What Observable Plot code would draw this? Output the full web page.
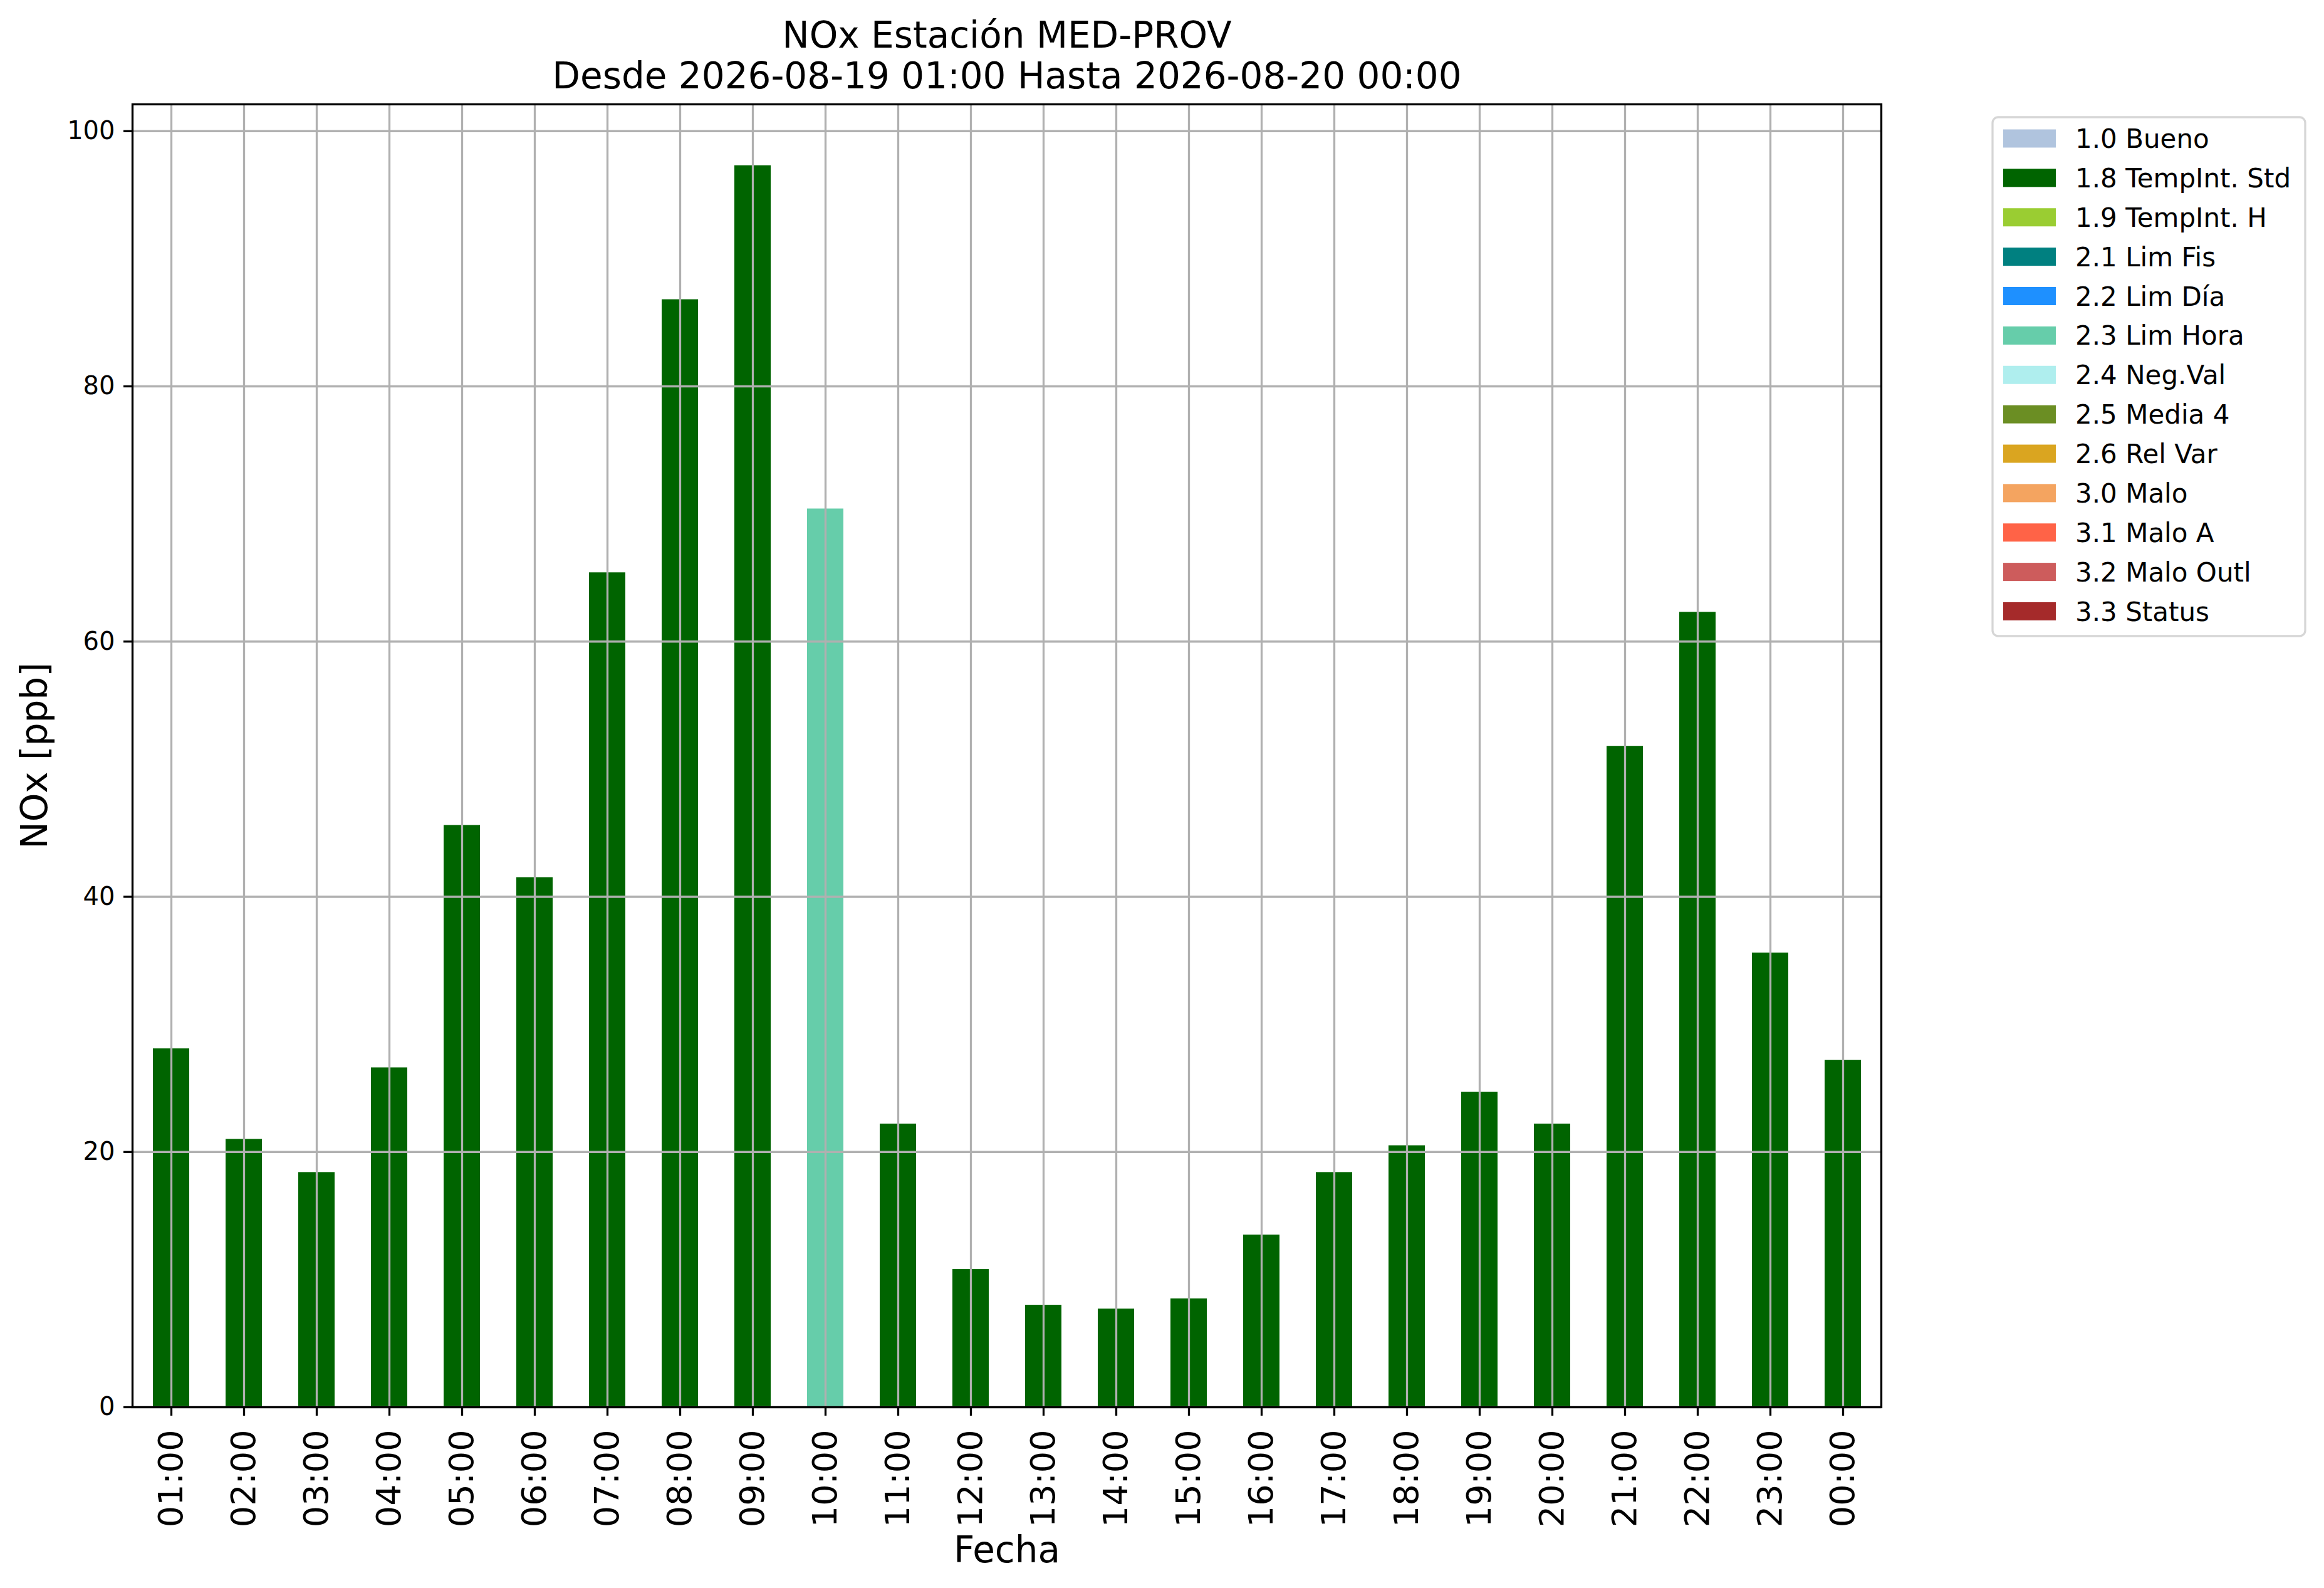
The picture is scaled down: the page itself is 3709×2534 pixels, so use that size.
<!DOCTYPE html>
<html>
<head>
<meta charset="utf-8">
<script src="https://cdn.jsdelivr.net/npm/d3@7"></script>
<script src="https://cdn.jsdelivr.net/npm/@observablehq/plot@0.6"></script>
<style>
  html, body { margin: 0; padding: 0; background: #fff; }
  #wrap { position: relative; width: 3709px; height: 2534px; background: #fff; font-family: "DejaVu Sans", sans-serif; }
  #wrap svg { display: block; }
  #legend { position: absolute; left: 0; top: 0; }
</style>
</head>
<body>
<div id="wrap"></div>
<script>
// ---- data ----
const hours = ["01:00","02:00","03:00","04:00","05:00","06:00","07:00","08:00","09:00","10:00","11:00","12:00",
               "13:00","14:00","15:00","16:00","17:00","18:00","19:00","20:00","21:00","22:00","23:00","00:00"];
const values = [28.1, 21.0, 18.4, 26.6, 45.6, 41.5, 65.4, 86.8, 97.3, 70.4, 22.2, 10.8,
                8.0, 7.7, 8.5, 13.5, 18.4, 20.5, 24.7, 22.2, 51.8, 62.3, 35.6, 27.2];
const flagOfHour = ["1.8 TempInt. Std","1.8 TempInt. Std","1.8 TempInt. Std","1.8 TempInt. Std","1.8 TempInt. Std","1.8 TempInt. Std",
                    "1.8 TempInt. Std","1.8 TempInt. Std","1.8 TempInt. Std","2.3 Lim Hora","1.8 TempInt. Std","1.8 TempInt. Std",
                    "1.8 TempInt. Std","1.8 TempInt. Std","1.8 TempInt. Std","1.8 TempInt. Std","1.8 TempInt. Std","1.8 TempInt. Std",
                    "1.8 TempInt. Std","1.8 TempInt. Std","1.8 TempInt. Std","1.8 TempInt. Std","1.8 TempInt. Std","1.8 TempInt. Std"];
const flagNames = ["1.0 Bueno","1.8 TempInt. Std","1.9 TempInt. H","2.1 Lim Fis","2.2 Lim Día","2.3 Lim Hora",
                   "2.4 Neg.Val","2.5 Media 4","2.6 Rel Var","3.0 Malo","3.1 Malo A","3.2 Malo Outl","3.3 Status"];
const flagColors = ["#b0c4de","#006400","#9acd32","#008080","#1e90ff","#66cdaa",
                    "#afeeee","#6b8e23","#daa520","#f4a460","#ff6347","#cd5c5c","#a52a2a"];
const yTicks = [0, 20, 40, 60, 80, 100];
const titleLine1 = "NOx Estación MED-PROV";
const titleLine2 = "Desde 2026-08-19 01:00 Hasta 2026-08-20 00:00";
const xLabel = "Fecha";
const yLabel = "NOx [ppb]";

const table = hours.map((h, i) => ({hour: h, value: values[i], flag: flagOfHour[i]}));

const W = 3709, H = 2534;
const mL = 211, mR = W - 3002, mT = 166, mB = H - 2245;
const lw = 3.3;
const gridColor = "#b0b0b0";

const chart = Plot.plot({
  width: W, height: H,
  marginLeft: mL, marginRight: mR, marginTop: mT, marginBottom: mB,
  style: {fontFamily: "DejaVu Sans", background: "#fff", color: "#000", overflow: "visible"},
  x: {domain: hours, paddingInner: 0.5, paddingOuter: 0.25, align: 0.5},
  y: {domain: [0, 102.1], nice: false},
  color: {domain: flagNames, range: flagColors},
  marks: [
    Plot.barY(table, {x: "hour", y: "value", fill: "flag"}),
    Plot.gridX({stroke: gridColor, strokeOpacity: 1, strokeWidth: lw}),
    Plot.gridY({ticks: yTicks, stroke: gridColor, strokeOpacity: 1, strokeWidth: lw}),
    Plot.axisY({ticks: yTicks, tickSize: 14, tickPadding: 14, fontSize: 40, strokeWidth: lw, label: null}),
    Plot.axisX({tickRotate: -90, tickSize: 14, tickPadding: 22, fontSize: 54, strokeWidth: lw, label: null}),
    Plot.frame({stroke: "#000", strokeWidth: lw}),
    Plot.text([titleLine1], {frameAnchor: "top", dy: 75 - mT, lineAnchor: "bottom", fontSize: 58}),
    Plot.text([titleLine2], {frameAnchor: "top", dy: 140 - mT, lineAnchor: "bottom", fontSize: 58}),
    Plot.text([xLabel], {frameAnchor: "bottom", dy: 2492 - 2245, lineAnchor: "bottom", fontSize: 58}),
    Plot.text([yLabel], {frameAnchor: "left", dx: 74 - mL, rotate: -90, textAnchor: "middle", lineAnchor: "bottom", fontSize: 58})
  ]
});
document.getElementById("wrap").appendChild(chart);

// ---- legend ----
const lg = d3.select("#wrap").append("svg")
  .attr("id", "legend")
  .attr("width", W).attr("height", H)
  .style("position", "absolute").style("left", "0px").style("top", "0px")
  .attr("font-family", "DejaVu Sans");
const boxX = 3180, boxY = 187, boxW = 499, boxH = 828;
lg.append("rect").attr("x", boxX).attr("y", boxY).attr("width", boxW).attr("height", boxH)
  .attr("rx", 9).attr("ry", 9)
  .attr("fill", "#fff").attr("fill-opacity", 0.8)
  .attr("stroke", "#d6d6d6").attr("stroke-width", lw);
const rowY = d3.scaleLinear().domain([0, flagNames.length - 1]).range([221, 975.5]);
const items = lg.selectAll("g.item").data(flagNames).join("g").attr("class", "item")
  .attr("transform", (d, i) => `translate(0,${rowY(i)})`);
items.append("rect").attr("x", 3197).attr("y", -14.5).attr("width", 84).attr("height", 29)
  .attr("fill", (d, i) => flagColors[i]);
items.append("text").attr("x", 3312).attr("y", 15).attr("font-size", 42).attr("fill", "#000")
  .text(d => d);
</script>
</body>
</html>
